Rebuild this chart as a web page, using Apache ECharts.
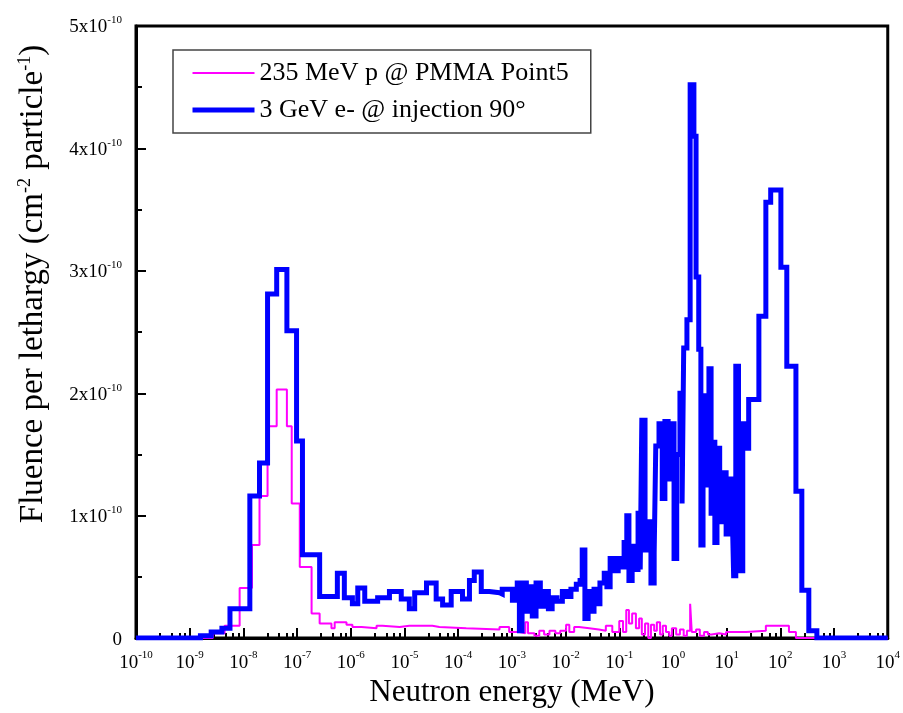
<!DOCTYPE html>
<html><head><meta charset="utf-8">
<script src="https://cdn.jsdelivr.net/npm/echarts@6/dist/echarts.min.js"></script>
<style>html,body{margin:0;padding:0;background:#fff}#c{width:903px;height:713px}</style>
</head><body><div id="c"></div>
<script>
// x axis decades (exponents of 10, MeV)
const xTickExponents = [-10,-9,-8,-7,-6,-5,-4,-3,-2,-1,0,1,2,3,4];
// y axis tick values (units of 1e-10)
const yTickValues = [0,1,2,3,4,5];

const seriesNames = ['235 MeV p @ PMMA Point5', '3 GeV e- @ injection 90°'];

// 235 MeV p @ PMMA Point5 : left bin edges (log10 MeV) and fluence (x1e-10)
const protonLogE = [-10,-8.57,-8.35,-8.07,-7.84,-7.70,-7.55,-7.38,-7.19,-7.10,
  -6.95,-6.73,-6.58,-6.36,-6.30,-6.08,-5.97,-5.80,-5.52,-5.41,
  -5.09,-4.91,-4.48,-4.35,-3.85,-3.23,-3.05,-2.86,-2.75,-2.70,
  -2.58,-2.49,-2.40,-2.30,-2.19,-2.10,-1.99,-1.93,-1.84,-1.75,
  -1.56,-1.38,-1.25,-1.13,-1.00,-0.93,-0.87,-0.82,-0.76,-0.69,
  -0.63,-0.58,-0.52,-0.46,-0.41,-0.35,-0.30,-0.24,-0.19,-0.13,
  -0.07,-0.02,0.06,0.13,0.20,0.26,0.32,0.35,0.43,0.50,
  0.58,0.65,0.72,0.86,0.99,1.36,1.73,2.16,2.29];
const protonFluence = [0,0.04,0.10,0.41,0.76,1.16,1.73,2.03,1.73,1.10,
  0.58,0.20,0.12,0.08,0.13,0.11,0.09,0.08,0.10,0.09,
  0.10,0.10,0.09,0.08,0.07,0.09,0.05,0.04,0.13,0.04,
  0.02,0.06,0.03,0.06,0.04,0.06,0.11,0.05,0.09,0.08,
  0.07,0.06,0.10,0.05,0.14,0.05,0.23,0.12,0.20,0.08,
  0.16,0.03,0.12,0.00,0.11,0.06,0.13,0.03,0.10,0.05,
  0.02,0.08,0.03,0.07,0.02,0.06,0.28,0.05,0.07,0.02,
  0.05,0.03,0.04,0.03,0.05,0.06,0.10,0.05,0];
const protonUpperLogE = 4;

// 3 GeV e- @ injection 90° : left bin edges (log10 MeV) and fluence (x1e-10)
const electronLogE = [-10,-8.8,-8.6,-8.4,-8.25,-7.88,-7.70,-7.55,-7.38,-7.19,
  -7.01,-6.90,-6.58,-6.25,-6.12,-5.97,-5.87,-5.74,-5.50,-5.28,
  -5.06,-4.91,-4.81,-4.59,-4.41,-4.29,-4.13,-3.92,-3.79,-3.70,
  -3.57,-3.42,-3.23,-3.18,-2.99,-2.90,-2.86,-2.81,-2.73,-2.68,
  -2.62,-2.55,-2.47,-2.40,-2.32,-2.25,-2.16,-2.06,-1.99,-1.90,
  -1.80,-1.73,-1.69,-1.64,-1.58,-1.52,-1.47,-1.41,-1.36,-1.28,
  -1.23,-1.17,-1.10,-1.02,-0.97,-0.91,-0.86,-0.82,-0.76,-0.71,
  -0.65,-0.61,-0.58,-0.52,-0.46,-0.41,-0.35,-0.32,-0.26,-0.20,
  -0.15,-0.09,-0.04,0.02,0.07,0.13,0.17,0.20,0.26,0.32,
  0.39,0.43,0.48,0.52,0.56,0.60,0.63,0.67,0.71,0.74,
  0.78,0.82,0.87,0.93,0.99,1.04,1.10,1.13,1.17,1.22,
  1.26,1.30,1.34,1.41,1.60,1.73,1.82,2.01,2.12,2.29,
  2.40,2.53,2.68];
const electronFluence = [0,0.02,0.05,0.08,0.24,1.16,1.43,2.81,3.01,2.51,
  1.61,0.68,0.34,0.53,0.33,0.28,0.41,0.30,0.33,0.38,
  0.32,0.24,0.37,0.45,0.32,0.27,0.38,0.32,0.47,0.54,
  0.38,0.37,0.36,0.40,0.31,0.45,0.06,0.45,0.22,0.42,
  0.18,0.45,0.26,0.38,0.24,0.33,0.30,0.38,0.34,0.40,
  0.44,0.47,0.72,0.16,0.38,0.22,0.40,0.28,0.45,0.53,
  0.42,0.65,0.55,0.65,0.58,0.78,1.00,0.47,0.75,0.56,
  1.02,0.56,1.78,0.72,0.95,0.45,0.70,1.57,1.75,1.14,
  1.77,1.30,1.75,0.65,1.50,2.00,1.10,2.37,2.60,4.52,
  4.10,2.95,2.36,0.76,1.57,2.00,1.25,2.20,1.00,1.60,
  0.78,1.55,0.95,1.35,0.85,1.30,1.10,0.51,2.22,1.40,
  0.55,1.75,1.55,1.95,2.63,3.56,3.66,3.03,2.22,1.20,
  0.39,0.06,0];
const electronUpperLogE = 4;

function stepPoints(logE, vals, upper) {
  const pts = logE.map((e, i) => [Math.pow(10, e), vals[i]]);
  pts.push([Math.pow(10, upper), vals[vals.length - 1]]);
  return pts;
}

const FF = '"Liberation Serif", "Times New Roman", serif';
const chart = echarts.init(document.getElementById('c'));
chart.setOption({
  animation: false,
  backgroundColor: '#fff',
  grid: {left: 136, right: 14, top: 26, bottom: 73, show: true, borderColor: '#000', borderWidth: 3},
  legend: {
    left: 173, top: 50, orient: 'vertical',
    itemWidth: 62, itemHeight: 14, itemGap: 11,
    padding: [10, 22, 10, 17],
    borderColor: '#444', borderWidth: 1.5,
    itemStyle: {opacity: 0},
    textStyle: {fontFamily: FF, fontSize: 26, color: '#000'},
    data: [
      {name: seriesNames[0], lineStyle: {width: 2}},
      {name: seriesNames[1], lineStyle: {width: 5}}
    ]
  },
  xAxis: {
    type: 'log', logBase: 10,
    min: Math.pow(10, xTickExponents[0]), max: Math.pow(10, xTickExponents[xTickExponents.length - 1]),
    interval: 1,
    axisLine: {show: true, onZero: false, lineStyle: {color: '#000', width: 3}},
    axisTick: {show: true, inside: true, length: 10, lineStyle: {color: '#000', width: 2}},
    minorTick: {show: true, splitNumber: 5, length: 5, lineStyle: {color: '#000', width: 2}},
    splitLine: {show: false},
    axisLabel: {
      margin: 12, interval: 0,
      formatter: v => '{b|10}{s|' + Math.round(Math.log10(v)) + '}',
      rich: {
        b: {fontFamily: FF, fontSize: 19, color: '#000', lineHeight: 22, verticalAlign: 'bottom'},
        s: {fontFamily: FF, fontSize: 11, color: '#000', lineHeight: 22, verticalAlign: 'top'}
      }
    },
    name: 'Neutron energy (MeV)', nameLocation: 'middle', nameGap: 35,
    nameTextStyle: {fontFamily: FF, fontSize: 31, color: '#000'}
  },
  yAxis: {
    type: 'value', min: yTickValues[0], max: yTickValues[yTickValues.length - 1], interval: 1,
    axisLine: {show: true, lineStyle: {color: '#000', width: 3}},
    axisTick: {show: true, inside: true, length: 10, lineStyle: {color: '#000', width: 2}},
    minorTick: {show: true, splitNumber: 2, length: 6, lineStyle: {color: '#000', width: 2}},
    splitLine: {show: false},
    axisLabel: {
      margin: 14,
      formatter: v => v === 0 ? '{b|0}' : '{b|' + v + 'x10}{s|-10}',
      rich: {
        b: {fontFamily: FF, fontSize: 19, color: '#000', lineHeight: 22, verticalAlign: 'bottom'},
        s: {fontFamily: FF, fontSize: 11, color: '#000', lineHeight: 22, verticalAlign: 'top'}
      }
    },
    name: 'Fluence per lethargy (cm{s|-2} particle{s|-1})',
    nameLocation: 'middle', nameGap: 86,
    nameTextStyle: {
      fontFamily: FF, fontSize: 33, color: '#000', padding: [0, 0, 0, 96],
      rich: {s: {fontFamily: FF, fontSize: 18, color: '#000', verticalAlign: 'top', lineHeight: 34}}
    }
  },
  series: [
    {name: seriesNames[0], type: 'line', step: 'end', showSymbol: false, symbol: 'none',
     data: stepPoints(protonLogE, protonFluence, protonUpperLogE),
     lineStyle: {color: '#FF00FF', width: 2}, itemStyle: {color: '#FF00FF'}},
    {name: seriesNames[1], type: 'line', step: 'end', showSymbol: false, symbol: 'none',
     data: stepPoints(electronLogE, electronFluence, electronUpperLogE),
     lineStyle: {color: '#0000FF', width: 5, join: 'miter'}, itemStyle: {color: '#0000FF'}}
  ]
});
</script></body></html>
